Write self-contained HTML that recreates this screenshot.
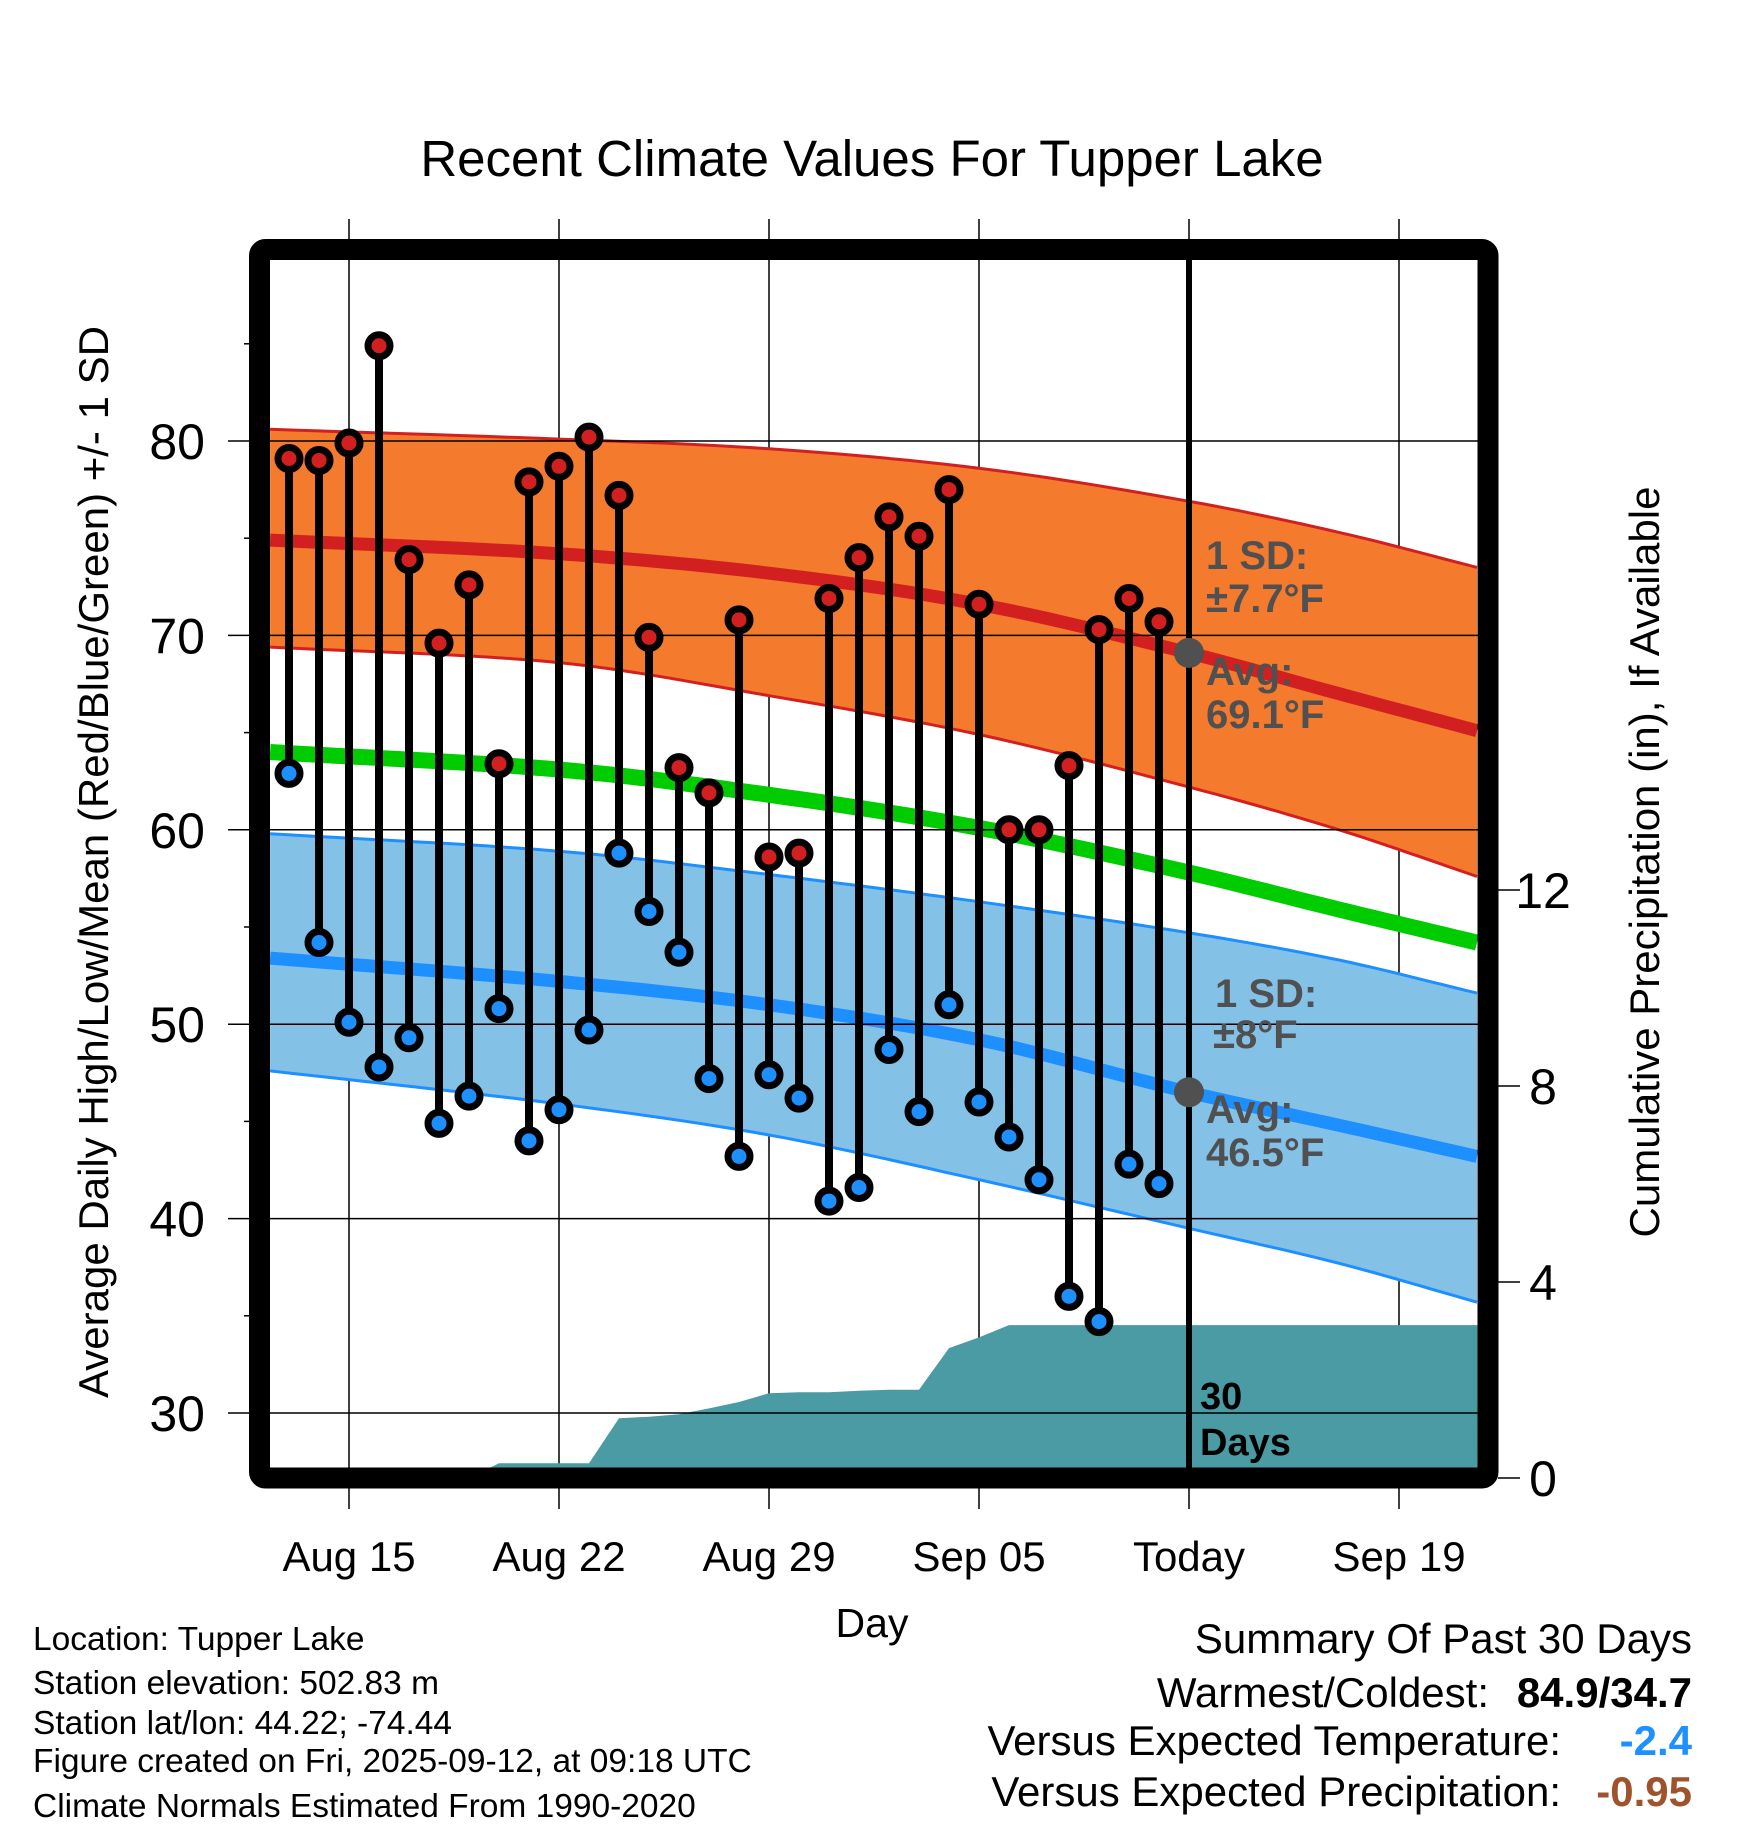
<!DOCTYPE html>
<html><head><meta charset="utf-8">
<style>
html,body{margin:0;padding:0;background:#fff;}
svg{display:block;font-family:"Liberation Sans",Arial,sans-serif;}
</style></head>
<body>
<svg id="chart" width="1748" height="1828" viewBox="0 0 1748 1828" xmlns="http://www.w3.org/2000/svg">
  <defs>
    <clipPath id="plotclip"><rect x="270" y="260" width="1208" height="1208"/></clipPath>
  </defs>
  <text x="872" y="176" font-size="51" text-anchor="middle">Recent Climate Values For Tupper Lake</text>
  <g id="gridlayer"></g>
  <g id="bands" clip-path="url(#plotclip)"></g>
  <g id="hgrid"></g>
  <g id="marks"></g>
  <g id="annot"></g>
  <rect x="259.5" y="249.5" width="1228.5" height="1228.5" rx="6" fill="none" stroke="#000" stroke-width="21"/>
  <g id="axes"></g>
  <text x="872" y="1637" font-size="41" text-anchor="middle">Day</text>
  <text transform="translate(108,862) rotate(-90)" font-size="42" text-anchor="middle">Average Daily High/Low/Mean (Red/Blue/Green) +/- 1 SD</text>
  <text transform="translate(1659,862) rotate(-90)" font-size="42" text-anchor="middle">Cumulative Precipitation (in), If Available</text>
  <g font-size="33.5">
    <text x="33" y="1650">Location: Tupper Lake</text>
    <text x="33" y="1694">Station elevation: 502.83 m</text>
    <text x="33" y="1734">Station lat/lon: 44.22; -74.44</text>
    <text x="33" y="1772">Figure created on Fri, 2025-09-12, at 09:18 UTC</text>
    <text x="33" y="1817">Climate Normals Estimated From 1990-2020</text>
  </g>
  <g font-size="42">
    <text x="1692" y="1653" text-anchor="end">Summary Of Past 30 Days</text>
    <text x="1489" y="1707" text-anchor="end">Warmest/Coldest:</text>
    <text x="1692" y="1707" text-anchor="end" font-weight="bold">84.9/34.7</text>
    <text x="1561" y="1755" text-anchor="end">Versus Expected Temperature:</text>
    <text x="1692" y="1755" text-anchor="end" font-weight="bold" fill="#1E90FF">-2.4</text>
    <text x="1561" y="1806" text-anchor="end">Versus Expected Precipitation:</text>
    <text x="1692" y="1806" text-anchor="end" font-weight="bold" fill="#A0522D">-0.95</text>
  </g>
</svg>
<script>
const highs = [79.1,79.0,79.9,84.9,73.9,69.6,72.6,63.4,77.9,78.7,80.2,77.2,69.9,63.2,61.9,70.8,58.6,58.8,71.9,74.0,76.1,75.1,77.5,71.6,60.0,60.0,63.3,70.3,71.9,70.7];
const lows = [62.9,54.2,50.1,47.8,49.3,44.9,46.3,50.8,44.0,45.6,49.7,58.8,55.8,53.7,47.2,43.2,47.4,46.2,40.9,41.6,48.7,45.5,51.0,46.0,44.2,42.0,36.0,34.7,42.8,41.8];
const precip = [0,0,0,0,0,0,0,0.3,0.3,0.3,0.3,1.22,1.25,1.3,1.42,1.55,1.73,1.75,1.75,1.78,1.8,1.8,2.65,2.87,3.12,3.12,3.12,3.12,3.12,3.12];
const normDays = [-0.63,9,16,23,30,35,39.6];
const highUpper = [80.6,80.1,79.6,78.6,76.9,75.3,73.5];
const highAvg = [74.9,74.2,73.2,71.6,69.1,67.0,65.1];
const highLower = [69.4,68.6,66.9,64.9,62.2,60.0,57.6];
const meanAvg = [64.0,63.1,61.8,60.1,57.8,55.9,54.2];
const lowUpper = [59.8,58.9,57.7,56.3,54.7,53.3,51.6];
const lowAvg = [53.4,52.2,51.0,49.2,46.5,44.8,43.2];
const lowLower = [47.6,45.9,44.3,42.0,39.5,37.7,35.7];
const yTicks = [30,40,50,60,70,80];
const yMinor = [35,45,55,65,75,85];
const pTicks = [0,4,8,12];
const xTickDays = [2,9,16,23,30,37];
const xTickLabels = ["Aug 15","Aug 22","Aug 29","Sep 05","Today","Sep 19"];
const todayIdx = 30;

const NS = "http://www.w3.org/2000/svg";
function X(d){return 289 + d*30;}
function Y(v){return 441 + (80 - v)*19.44;}
function P(p){return 1478 - p*49;}
function mk(tag, attrs, parent){const e=document.createElementNS(NS,tag);for(const k in attrs)e.setAttribute(k,attrs[k]);parent.appendChild(e);return e;}
function interp(arr){ // smooth (Catmull-Rom) path points through normDays/arr
  const pts=[], n=normDays.length;
  for(let i=0;i<n-1;i++){
    const d0=normDays[Math.max(i-1,0)], d1=normDays[i], d2=normDays[i+1], d3=normDays[Math.min(i+2,n-1)];
    const v0=arr[Math.max(i-1,0)], v1=arr[i], v2=arr[i+1], v3=arr[Math.min(i+2,n-1)];
    const m1=(v2-v0)/(d2-d0), m2=(v3-v1)/(d3-d1), h=d2-d1;
    const steps=12;
    for(let j=0;j<steps;j++){
      const t=j/steps, t2=t*t, t3=t2*t;
      const v=(2*t3-3*t2+1)*v1+(t3-2*t2+t)*h*m1+(-2*t3+3*t2)*v2+(t3-t2)*h*m2;
      pts.push([X(d1+h*t),Y(v)]);
    }
  }
  pts.push([X(normDays[n-1]),Y(arr[n-1])]);
  return pts;
}
function lineStr(pts){return pts.map((p,i)=>(i?'L':'M')+p[0].toFixed(1)+' '+p[1].toFixed(1)).join(' ');}
function bandStr(a,b){const pa=interp(a),pb=interp(b).reverse();return lineStr(pa)+' '+pb.map(p=>'L'+p[0].toFixed(1)+' '+p[1].toFixed(1)).join(' ')+' Z';}

const grid=document.getElementById('gridlayer');
const bands=document.getElementById('bands');
const hgrid=document.getElementById('hgrid');
const marks=document.getElementById('marks');
const annot=document.getElementById('annot');
const axes=document.getElementById('axes');

xTickDays.forEach((d,i)=>{
  const l=mk('line',{x1:X(d),x2:X(d),y1:219,y2:1509,stroke:'#000','stroke-width':1.5},grid);
  
  
  const t=mk('text',{x:X(d),y:1571,'font-size':42,'text-anchor':'middle'},axes);
  t.textContent=xTickLabels[i];
  
  
});

let e;
e=mk('path',{d:bandStr(highUpper,highLower),fill:'#F47A2D'},bands);


e=mk('path',{d:bandStr(lowUpper,lowLower),fill:'#84C1E6'},bands);


[[highUpper,'#D22020',3],[highLower,'#D22020',3],[lowUpper,'#1E8FFF',3],[lowLower,'#1E8FFF',3],[highAvg,'#D22020',13],[lowAvg,'#1E8FFF',13],[meanAvg,'#00CC00',16]].forEach((s,i)=>{
  const p=mk('path',{d:lineStr(interp(s[0])),fill:'none',stroke:s[1],'stroke-width':s[2]},bands);
  
  
});
let pd='M'+X(-1)+' 1480 L'+X(0)+' '+P(precip[0]);
precip.forEach((p,i)=>{pd+=' L'+X(i)+' '+P(p);});
pd+=' L'+X(40)+' '+P(precip[precip.length-1])+' L'+X(40)+' 1480 Z';
e=mk('path',{d:pd,fill:'#4A9BA3'},bands);



yTicks.forEach(v=>{
  const l=mk('line',{x1:228,x2:1478,y1:Y(v),y2:Y(v),stroke:'#000','stroke-width':1.5},hgrid);
  
  
  const t=mk('text',{x:205,y:Y(v)+18,'font-size':50,'text-anchor':'end'},axes);
  t.textContent=v;
  
  
});
yMinor.forEach(v=>{
  const l=mk('line',{x1:244,x2:250,y1:Y(v),y2:Y(v),stroke:'#000','stroke-width':1.5},axes);
  
  
});
pTicks.forEach(p=>{
  const l=mk('line',{x1:1498,x2:1520,y1:P(p),y2:P(p),stroke:'#000','stroke-width':1.5},axes);
  
  
  const t=mk('text',{x:1543,y:P(p)+18,'font-size':50,'text-anchor':'middle'},axes);
  t.textContent=p;
  
  
});

e=mk('line',{x1:X(todayIdx),x2:X(todayIdx),y1:260,y2:1468,stroke:'#000','stroke-width':6},marks);



highs.forEach((h,i)=>{
  const s=mk('line',{x1:X(i),x2:X(i),y1:Y(h),y2:Y(lows[i]),stroke:'#000','stroke-width':8},marks);
  
  
});
highs.forEach((h,i)=>{
  const c=mk('circle',{cx:X(i),cy:Y(h),r:11,fill:'#D22020',stroke:'#000','stroke-width':7},marks);
  
  
  const c2=mk('circle',{cx:X(i),cy:Y(lows[i]),r:11,fill:'#1E8FFF',stroke:'#000','stroke-width':7},marks);
  
  
});

[highAvg,lowAvg].forEach((arr,k)=>{
  const c=mk('circle',{cx:X(todayIdx),cy:Y(arr[4]),r:15,fill:'#505050'},annot);
  
  
});
function label(x,y,txt,name,color,size){
  const t=mk('text',{x:x,y:y,'font-size':size||40,'font-weight':'bold',fill:color||'#505050'},annot);
  t.textContent=txt;
  
  
}
label(1206,569,'1 SD:','high-sd-label');
label(1206,612,'\u00B17.7\u00B0F','high-sd-value');
label(1206,685,'Avg:','high-avg-label');
label(1206,728,'69.1\u00B0F','high-avg-value');
label(1215,1007,'1 SD:','low-sd-label');
label(1213,1048,'\u00B18\u00B0F','low-sd-value');
label(1206,1123,'Avg:','low-avg-label');
label(1206,1166,'46.5\u00B0F','low-avg-value');
label(1200,1409,'30','precip-days-number','#000',38);
label(1200,1455,'Days','precip-days-label','#000',38);
</script>
</body></html>
